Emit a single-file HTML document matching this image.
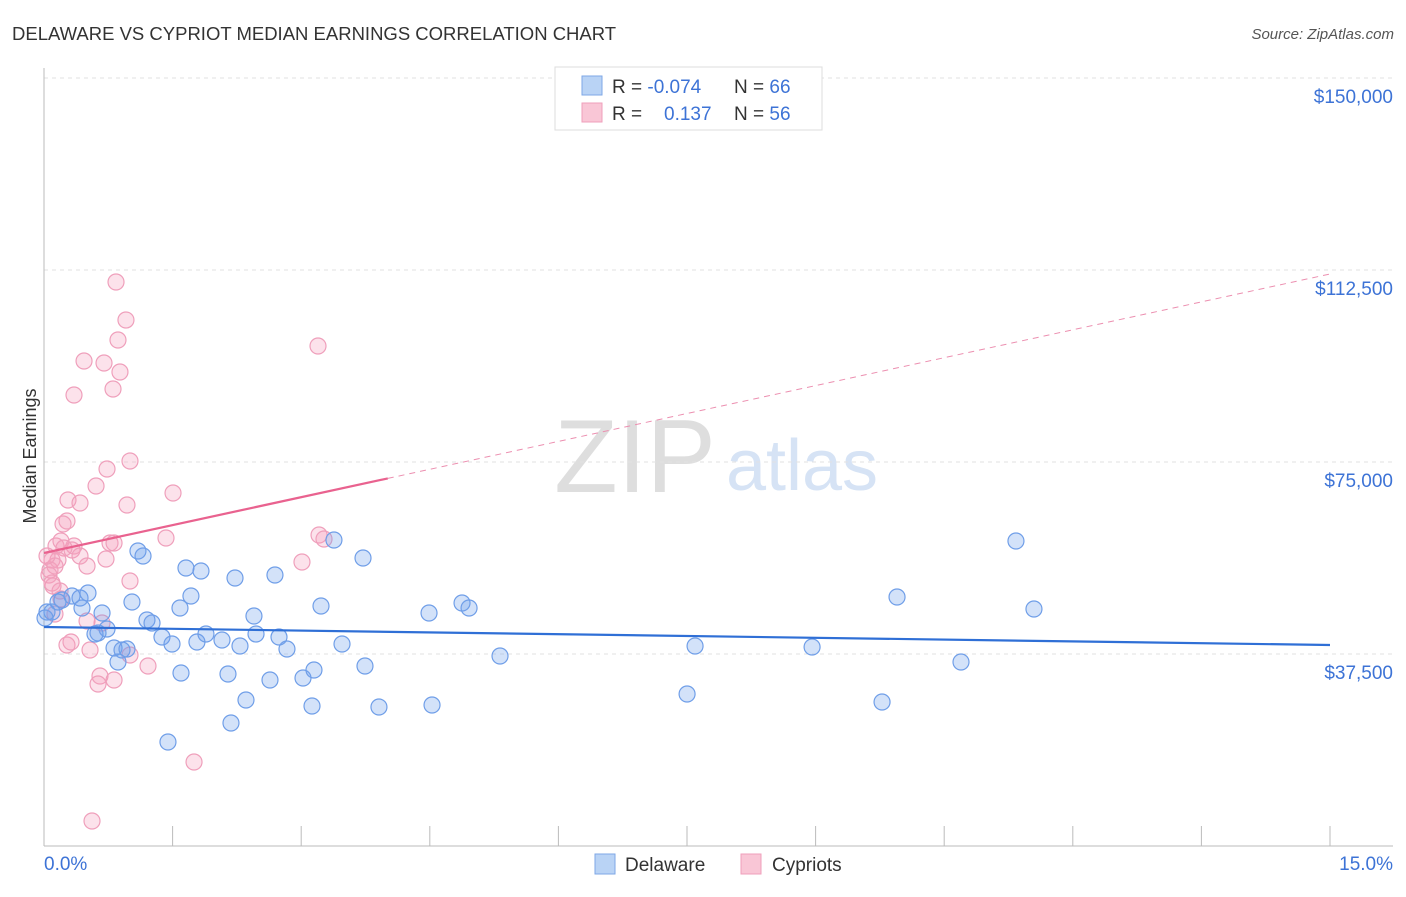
<!DOCTYPE html>
<html><head><meta charset="utf-8"><style>
body{margin:0;background:#fff;font-family:"Liberation Sans",sans-serif}
svg text{font-family:"Liberation Sans",sans-serif}
</style></head><body>
<svg id="c" width="1406" height="892">
<text x="12" y="40" font-size="18.5" fill="#333">DELAWARE VS CYPRIOT MEDIAN EARNINGS CORRELATION CHART</text>
<text x="1394" y="39" font-size="15" fill="#555" text-anchor="end" font-style="italic">Source: ZipAtlas.com</text>
<text x="36" y="456" font-size="18" fill="#333" transform="rotate(-90 36 456)" text-anchor="middle">Median Earnings</text>
<g><text x="635" y="492" font-size="104" fill="#dedede" font-family="Liberation Serif" text-anchor="middle">ZIP</text><text x="802" y="490" font-size="72" fill="#d6e3f5" text-anchor="middle">atlas</text></g>
<g id="grid"></g><g id="marks"></g>
<g>
<rect x="555" y="67" width="267" height="63" fill="#fff" stroke="#ddd"/>
<rect x="582" y="76" width="20" height="19" fill="#b9d3f5" stroke="#7ea7e6"/>
<rect x="582" y="103" width="20" height="19" fill="#f9c6d6" stroke="#ef9fbb"/>
<text x="612" y="93" font-size="19" fill="#333">R = <tspan fill="#3d73d6">-0.074</tspan></text>
<text x="734" y="93" font-size="19" fill="#333">N = <tspan fill="#3d73d6">66</tspan></text>
<text x="612" y="120" font-size="19" fill="#333">R = </text><text x="664" y="120" font-size="19" fill="#3d73d6">0.137</text>
<text x="734" y="120" font-size="19" fill="#333">N = <tspan fill="#3d73d6">56</tspan></text>
</g>
<g>
<rect x="595" y="854" width="20" height="20" fill="#b9d3f5" stroke="#7ea7e6"/><text x="625" y="871" font-size="19" fill="#333">Delaware</text>
<rect x="741" y="854" width="20" height="20" fill="#f9c6d6" stroke="#ef9fbb"/><text x="772" y="871" font-size="19" fill="#333">Cypriots</text>
</g>
</svg>
<script>
const yTicks=[37500,75000,112500,150000];
const yTickLabels=["$37,500","$75,000","$112,500","$150,000"];
const xTickLabels=["0.0%","15.0%"];
const blueX=[.035,.093,.163,.210,.327,.420,.513,.443,.595,.630,.677,.735,.817,.863,.910,.968,1.026,1.096,1.155,1.201,1.260,1.376,1.446,1.493,1.586,1.598,1.656,1.714,1.784,1.831,1.889,2.076,2.146,2.181,2.228,2.286,2.356,2.449,2.473,2.636,2.694,2.741,2.834,3.021,3.126,3.149,3.231,3.382,3.476,3.721,3.744,3.907,4.491,4.526,4.876,4.958,5.319,7.501,7.594,8.959,9.775,9.950,10.696,11.337,11.547,.012];
const blueY=[45703,45703,47656,48047,48828,48438,49414,46484,41406,41602,45508,42383,38672,35938,38281,38477,47656,57617,56641,44141,43555,40820,20313,39453,46484,33789,54297,48828,39844,53711,41406,40234,33594,24023,52344,39063,28516,44922,41406,32422,52930,40820,38477,32813,27344,34375,46875,59766,39453,56250,35156,27148,45508,27539,47461,46484,37109,29688,39063,38867,28125,48633,35938,59570,46289,44531];
const pinkX=[.840,.956,.863,.886,.467,.700,.350,.805,3.196,1.003,.735,.607,1.505,.280,.420,.968,.268,.222,3.208,3.266,1.423,.770,.817,.140,.350,.198,.327,.233,.093,.163,.420,.723,3.009,.070,.128,.502,.058,1.003,.093,.187,.198,.128,.677,.502,.268,.315,.537,1.003,1.213,.653,.630,.817,1.750,.560,.105,.035];
const pinkY=[110156,102734,98828,92578,94727,94336,88086,89258,97656,75195,73633,70313,68945,67578,66992,66602,63477,62891,60742,59961,60156,59180,59180,58594,58594,59570,57813,58203,55859,55859,56641,56055,55469,53906,54688,54688,52930,51758,51367,49805,48242,45313,43555,43945,39258,39844,38281,37305,35156,33203,31641,32422,16406,4883,50781,56641];
const blueTrend=[42773,39258];
const pinkTrend=[57227,111719];
const pinkSolidEnd=4.01;
const NS="http://www.w3.org/2000/svg";
const sx=v=>44+v/15*1286, sy=v=>846-v/37500*192;
function mk(t,a,p){const e=document.createElementNS(NS,t);for(const k in a)e.setAttribute(k,a[k]);p.appendChild(e);return e;}
const g=document.getElementById('grid'), m=document.getElementById('marks');
yTicks.forEach((v,i)=>{
 const l=mk('line',{x1:44,x2:1393,y1:sy(v),y2:sy(v),stroke:'#e2e2e2','stroke-dasharray':'4,4'},g);
 
 
 const t=mk('text',{x:1393,y:sy(v)+25,'font-size':19,fill:'#3d73d6','text-anchor':'end'},g);t.textContent=yTickLabels[i];
 
 
});
const ax=mk('line',{x1:44,x2:1393,y1:846,y2:846,stroke:'#bbb'},g);


const ay=mk('line',{x1:44,x2:44,y1:68,y2:846,stroke:'#bbb'},g);


for(let i=0;i<=10;i++){const tk=mk('line',{x1:sx(i*1.5),x2:sx(i*1.5),y1:826,y2:846,stroke:'#bbb'},g);
 
 }
[[44,'start'],[1393,'end']].forEach((p,i)=>{const t=mk('text',{x:p[0],y:870,'font-size':19,fill:'#3d73d6','text-anchor':p[1]},g);t.textContent=xTickLabels[i];
 
 });
function pts(X,Y,f,s,n){X.forEach((x,i)=>{const c=mk('circle',{cx:sx(x),cy:sy(Y[i]),r:8,fill:f,stroke:s,'stroke-width':1.2},m);
 
 });}
pts(pinkX,pinkY,'rgba(245,160,190,0.3)','#ef9fbb','cypriots-point');
pts(blueX,blueY,'rgba(110,160,235,0.3)','#6f9ee8','delaware-point');
const pAt=x=>pinkTrend[0]+(pinkTrend[1]-pinkTrend[0])*x/15;
const pd=mk('line',{x1:sx(pinkSolidEnd),y1:sy(pAt(pinkSolidEnd)),x2:sx(15),y2:sy(pinkTrend[1]),stroke:'#ec8fb0','stroke-dasharray':'6,5','stroke-width':1},m);


const ps=mk('line',{x1:sx(0),y1:sy(pinkTrend[0]),x2:sx(pinkSolidEnd),y2:sy(pAt(pinkSolidEnd)),stroke:'#e9628f','stroke-width':2.2},m);


const bl=mk('line',{x1:sx(0),y1:sy(blueTrend[0]),x2:sx(15),y2:sy(blueTrend[1]),stroke:'#2f6fd6','stroke-width':2.2},m);


</script>
</body></html>
